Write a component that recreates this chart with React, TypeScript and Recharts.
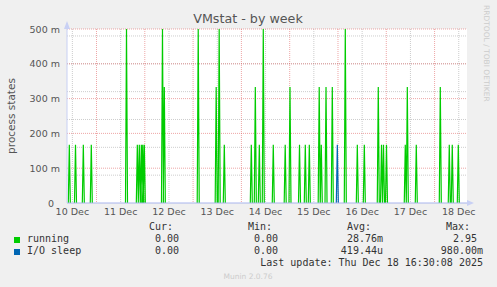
import * as React from 'react';
import { ComposedChart, Line, XAxis, YAxis, CartesianGrid } from 'recharts';

// spike positions: [day of December (fractional), value]
const runningSpikes: [number, number][] = [
  [10.437, 0.167], [10.565, 0.167], [10.727, 0.167], [10.892, 0.167],
  [11.621, 0.5], [11.845, 0.167], [11.886, 0.167], [11.928, 0.167], [11.957, 0.167], [11.99, 0.167],
  [12.366, 0.5], [12.404, 0.333],
  [13.106, 0.5], [13.478, 0.333], [13.54, 0.5], [13.646, 0.167],
  [14.205, 0.167], [14.288, 0.333], [14.371, 0.167], [14.453, 0.5], [14.66, 0.167], [14.907, 0.167],
  [15.006, 0.333], [15.203, 0.167], [15.323, 0.167], [15.406, 0.167], [15.611, 0.333], [15.654, 0.167],
  [15.752, 0.333], [15.882, 0.333],
  [16.151, 0.5], [16.4, 0.167], [16.545, 0.167], [16.834, 0.333], [16.901, 0.167], [16.942, 0.167],
  [17.004, 0.167], [17.393, 0.167], [17.435, 0.333], [17.621, 0.167],
  [18.118, 0.333], [18.304, 0.167], [18.366, 0.167], [18.491, 0.167],
];
const ioSleepSpikes: [number, number][] = [[15.986, 0.167]];

const dayTicks = [10.5, 11.5, 12.5, 13.5, 14.5, 15.5, 16.5, 17.5, 18.5];
const dayLabels = ['10 Dec', '11 Dec', '12 Dec', '13 Dec', '14 Dec', '15 Dec', '16 Dec', '17 Dec', '18 Dec'];
const yTicks = [0, 0.1, 0.2, 0.3, 0.4, 0.5];
const yLabels = ['0', '100 m', '200 m', '300 m', '400 m', '500 m'];

const legendRows = [
  { name: 'running', color: '#00cc00', cur: '0.00', min: '0.00', avg: '28.76m', max: '2.95' },
  { name: 'I/O sleep', color: '#0066b3', cur: '0.00', min: '0.00', avg: '419.44u', max: '980.00m' },
];

const X_DOMAIN: [number, number] = [10.389, 18.671];
const STEP = 1 / 48; // 30 minute samples

const toRows = (spikes: [number, number][]) => {
  const rows: { t: number; v: number | null }[] = [];
  spikes.forEach(([t, v]) => {
    rows.push({ t: t - STEP, v: 0 }, { t, v }, { t: t + STEP, v: 0 }, { t: t + STEP, v: null });
  });
  return rows;
};

const runningData = toRows(runningSpikes);
const ioSleepData = toRows(ioSleepSpikes);

const minorX: number[] = [];
for (let d = 10.5; d <= 18.6; d += 0.25) minorX.push(d);
const majorX = [11, 12, 13, 14, 15, 16, 17, 18];
const minorY: number[] = [];
for (let i = 1; i < 25; i++) minorY.push(i * 0.02);
const majorY = [0.1, 0.2, 0.3, 0.4, 0.5];

const SANS = '"DejaVu Sans", sans-serif';
const MONO = '"DejaVu Sans Mono", monospace';

const XTick = (props: any) => {
  const { x, payload } = props;
  const idx = dayTicks.indexOf(payload.value);
  return (
    <text x={x} y={215} textAnchor="middle" fontSize={9.5} fontFamily={SANS} fill="#555">
      {idx >= 0 ? dayLabels[idx] : ''}
    </text>
  );
};

const YTick = (props: any) => {
  const { y, payload } = props;
  const idx = yTicks.findIndex((t) => Math.abs(t - payload.value) < 1e-6);
  // rrdtool pads a unitless label with a trailing space
  const right = idx === 0 ? 54 : 60;
  return (
    <text x={right} y={y + 3.5} textAnchor="end" fontSize={9.5} fontFamily={SANS} fill="#555">
      {idx >= 0 ? yLabels[idx] : ''}
    </text>
  );
};

const VmstatWeekChart: React.FC = () => {
  return (
    <div style={{ position: 'absolute', left: 0, top: 0, width: 497, height: 287, background: '#f0f0f0' }}>
      <ComposedChart width={497} height={287} margin={{ top: 29, right: 30, bottom: 54, left: 7 }}>
        <CartesianGrid
          fill="#ffffff"
          stroke="rgba(143,143,143,0.45)"
          strokeDasharray="1 1"
          verticalValues={minorX}
          horizontalValues={minorY}
        />
        <CartesianGrid
          stroke="rgba(222,80,80,0.5)"
          strokeDasharray="1 1"
          verticalValues={majorX}
          horizontalValues={majorY}
        />
        <XAxis
          type="number"
          dataKey="t"
          domain={X_DOMAIN}
          allowDataOverflow
          ticks={dayTicks}
          tick={<XTick />}
          tickLine={false}
          axisLine={{ stroke: '#a8b4ec' }}
          height={30}
        />
        <YAxis
          type="number"
          domain={[0, 0.5]}
          allowDataOverflow
          ticks={yTicks}
          tick={<YTick />}
          tickLine={false}
          axisLine={{ stroke: '#c8d0f4' }}
          width={60}
        />
        <Line
          data={runningData}
          dataKey="v"
          type="linear"
          stroke="#00cc00"
          strokeWidth={1.2}
          dot={false}
          connectNulls={false}
          isAnimationActive={false}
        />
        <Line
          data={ioSleepData}
          dataKey="v"
          type="linear"
          stroke="#0066b3"
          strokeWidth={1.2}
          dot={false}
          connectNulls={false}
          isAnimationActive={false}
        />
      </ComposedChart>
      <svg
        width={497}
        height={287}
        style={{ position: 'absolute', left: 0, top: 0, pointerEvents: 'none' }}
      >
        <text x={248} y={23} textAnchor="middle" fontSize={12.7} fontFamily={SANS} fill="#555">
          VMstat - by week
        </text>
        <text
          transform="translate(15,116) rotate(-90)"
          textAnchor="middle"
          fontSize={10.5}
          fontFamily={SANS}
          fill="#555"
        >
          process states
        </text>
        <text
          transform="translate(484,5) rotate(90)"
          textAnchor="start"
          fontSize={7.5}
          fontFamily={SANS}
          fill="#cccccc"
        >
          RRDTOOL / TOBI OETIKER
        </text>
        {/* axis arrows */}
        <polygon points="64,29 67,21 70,29" fill="#c8d0f4" />
        <polygon points="467,200 474,203 467,206" fill="#c8d0f4" />

        <g fontFamily={MONO} fontSize={10} fill="#333">
          <text x={173} y={230} textAnchor="end">Cur:</text>
          <text x={272} y={230} textAnchor="end">Min:</text>
          <text x={371} y={230} textAnchor="end">Avg:</text>
          <text x={470} y={230} textAnchor="end">Max:</text>
          {legendRows.map((r, i) => {
            const y = 242 + i * 12;
            return (
              <g key={r.name}>
                <rect x={14} y={y - 5} width={6} height={6} fill={r.color} />
                <text x={27} y={y}>{r.name}</text>
                <text x={179} y={y} textAnchor="end">{r.cur}</text>
                <text x={278} y={y} textAnchor="end">{r.min}</text>
                <text x={383} y={y} textAnchor="end">{r.avg}</text>
                <text x={r.max.endsWith('m') ? 483 : 477} y={y} textAnchor="end">{r.max}</text>
              </g>
            );
          })}
          <text x={483} y={266} textAnchor="end">Last update: Thu Dec 18 16:30:08 2025</text>
        </g>
        <text x={248} y={279} textAnchor="middle" fontSize={7.5} fontFamily={SANS} fill="#cccccc">
          Munin 2.0.76
        </text>
      </svg>
    </div>
  );
};

export default function App() {
  return <VmstatWeekChart />;
}
